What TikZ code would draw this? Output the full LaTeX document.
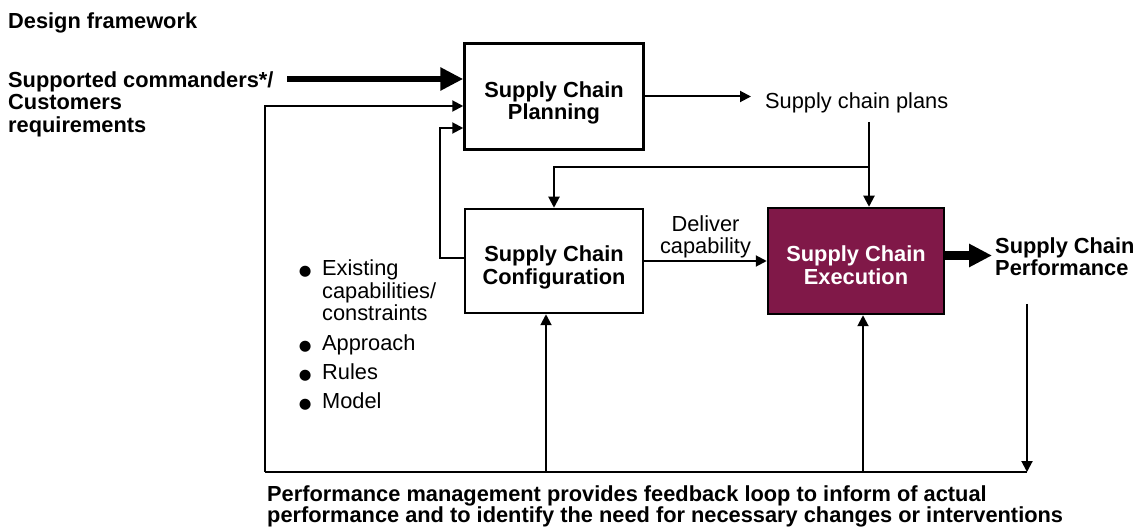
\documentclass[tikz,border=0pt]{standalone}
\usepackage{fontspec}
\setmainfont{Liberation Sans}
\newfontfamily\symfont{DejaVu Sans}
\usetikzlibrary{arrows.meta}
\definecolor{maroon}{RGB}{128,24,72}
\newcommand\bfs{\fontsize{21.8}{22.5}\selectfont}
\newcommand\blt{\llap{\smash{{\symfont\fontsize{14.5}{14.5}\selectfont ●}}\hspace{10.6pt}}}
\newcommand\lift[1]{\rule{0pt}{#1}}
\begin{document}
\begin{tikzpicture}[x=1pt,y=-1pt,
  every node/.style={font=\bfs, inner sep=0pt},
  box/.style={draw, line width=2.5pt, align=center, font=\bfseries\bfs},
  lbl/.style={font=\bfseries\bfs, align=left},
  txt/.style={font=\bfs, align=left},
  arr/.style={line width=2pt, -{Triangle[length=11pt,width=11pt]}},
  fat/.style={line width=#1, -{Triangle[length=23pt,width=22pt]}}]
\useasboundingbox (0,0) rectangle (1138,529);

% boxes
\node[box, minimum width=179pt, minimum height=106pt] (plan) at (554,96.5) {\lift{28.5pt}Supply Chain\\Planning};
\node[box, minimum width=178pt, minimum height=104pt] (config) at (554,261) {\lift{28.5pt}Supply Chain\\Configuration};
\node[box, fill=maroon, text=white, minimum width=176pt, minimum height=106pt] (exec) at (856,261) {\lift{24pt}Supply Chain\\Execution};

% texts
\node[lbl, anchor=base west] (title) at (8,28.5) {Design framework};
\node[lbl, anchor=north west] (req) at (8,71.5) {Supported commanders*/\\Customers\\requirements};
\node[txt, anchor=base west] (plans) at (765,108.5) {Supply chain plans};
\node[lbl, anchor=north west] (perf) at (995,237.5) {Supply Chain\\Performance};
\node[lbl, anchor=north west, font=\bfseries\fontsize{21.8}{21.5}\selectfont] (fb) at (267,485.5) {Performance management provides feedback loop to inform of actual\\performance and to identify the need for necessary changes or interventions};
\node[txt, anchor=north west] (it1) at (322,259.6) {\blt Existing\\capabilities/\\constraints};
\node[txt, anchor=north west] (it2) at (322,334.3) {\blt Approach};
\node[txt, anchor=north west] (it3) at (322,363.3) {\blt Rules};
\node[txt, anchor=north west] (it4) at (322,392.3) {\blt Model};

% coordinates
\coordinate (src) at (287,79);
\coordinate (pv) at (869,122);
\coordinate (h167) at (0,167);
\coordinate (pd) at (1027,304);
\coordinate (fbL) at (265,472);
\coordinate (fbR) at (1027,472);
\coordinate (fbC) at (546,472);
\coordinate (fbE) at (863,472);
\coordinate (es) at ([yshift=5.5pt]exec.east);

% connectors
\draw[fat=6pt] (src) -- (plan.west |- src);
\draw[arr, shorten >=14pt] (plan.east) -- (plan.east -| plans.west);
\draw[arr] (pv) -- (pv |- exec.north);
\draw[arr] (pv |- h167) -| (config.north);
\draw[arr] (config.east) -- node[above=1.5pt, align=center, font=\fontsize{21.8}{22}\selectfont] (dc) {Deliver\\capability} (exec.west);
\draw[arr] ([yshift=3pt]config.west) -- ++(-24,0) |- ([yshift=-31.5pt]plan.west);
\draw[fat=9pt, shorten >=3pt] (es) -- (perf.west |- es);
\draw[arr] (pd) -- (fbR);
\draw[line width=2pt] (fbR) -- (fbL);
\draw[arr] (fbL) |- ([yshift=-9.5pt]plan.west);
\draw[arr] (fbC) -- (fbC |- config.south);
\draw[arr] (fbE) -- (fbE |- exec.south);
\end{tikzpicture}
\end{document}
